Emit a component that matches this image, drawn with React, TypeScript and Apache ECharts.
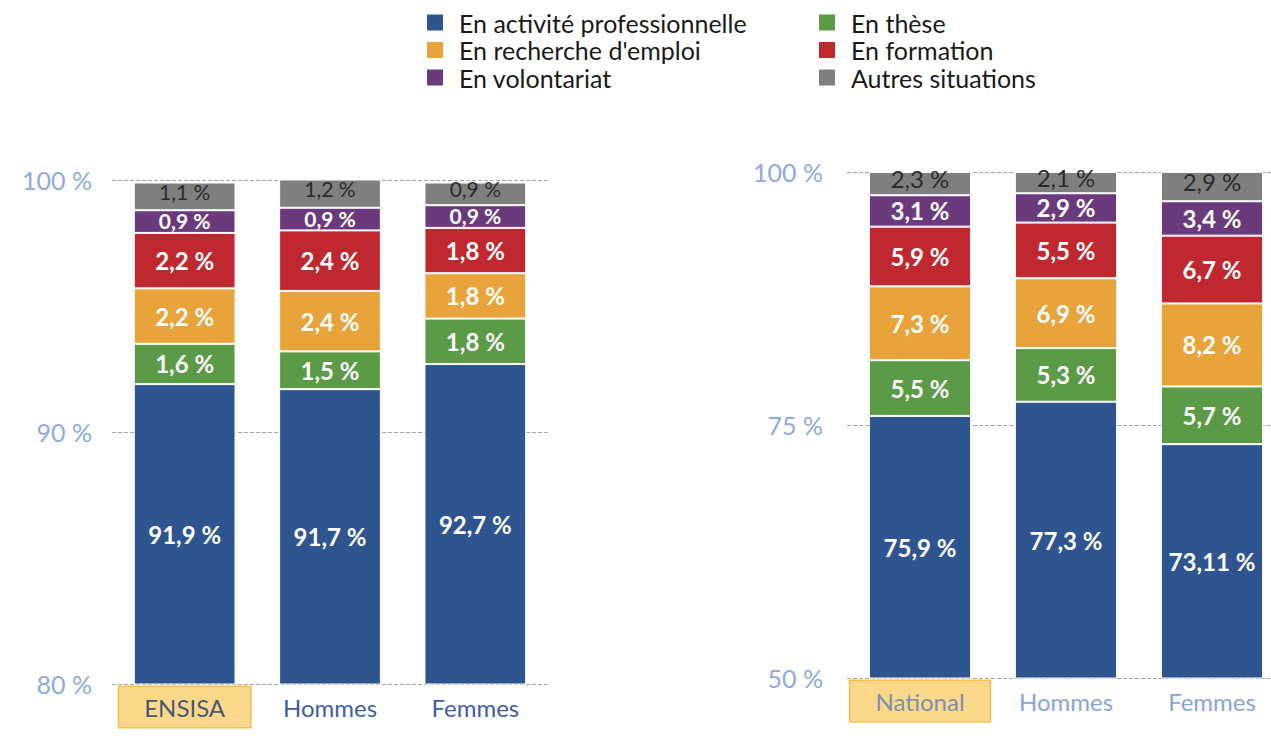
import React, { useEffect, useRef } from "react";
import * as echarts from "echarts";

const seriesNames = [
  "En activité professionnelle",
  "En thèse",
  "En recherche d'emploi",
  "En formation",
  "En volontariat",
  "Autres situations",
];
const seriesColors = ["#2e5590", "#5b9a47", "#e8a43a", "#c0282f", "#6b3a7d", "#7f7f7f"];

const leftCategories = ["ENSISA", "Hommes", "Femmes"];
const rightCategories = ["National", "Hommes", "Femmes"];

// left (ENSISA) values per series
const leftActivite = [91.9, 91.7, 92.7];
const leftThese = [1.6, 1.5, 1.8];
const leftRecherche = [2.2, 2.4, 1.8];
const leftFormation = [2.2, 2.4, 1.8];
const leftVolontariat = [0.9, 0.9, 0.9];
const leftAutres = [1.1, 1.2, 0.9];

// right (National) values per series
const rightActivite = [75.9, 77.3, 73.11];
const rightThese = [5.5, 5.3, 5.7];
const rightRecherche = [7.3, 6.9, 8.2];
const rightFormation = [5.9, 5.5, 6.7];
const rightVolontariat = [3.1, 2.9, 3.4];
const rightAutres = [2.3, 2.1, 2.9];

const leftTicks = [80, 90, 100];
const rightTicks = [50, 75, 100];

const FONT = "Lato, 'Open Sans', sans-serif";

export default function App() {
  const ref = useRef<HTMLDivElement>(null);
  useEffect(() => {
    if (!ref.current) return;
    const chart = echarts.init(ref.current, null, { renderer: "svg" });
    const leftData = [leftActivite, leftThese, leftRecherche, leftFormation, leftVolontariat, leftAutres];
    const rightData = [rightActivite, rightThese, rightRecherche, rightFormation, rightVolontariat, rightAutres];
    const fmt = (p: any) => String(p.value).replace(".", ",") + " %";

    const mk = (data: number[][], idx: number, stack: string) =>
      data.map((vals, i) => ({
        name: seriesNames[i],
        type: "bar",
        stack,
        xAxisIndex: idx,
        yAxisIndex: idx,
        barWidth: "70%",
        data: vals,
        itemStyle: { color: seriesColors[i], borderColor: "#ffffff", borderWidth: 1 },
        label: {
          show: true,
          position: "inside",
          formatter: fmt,
          fontFamily: FONT,
          fontSize: idx === 0 && i >= 4 ? 21 : 24,
          lineHeight: 18,
          offset: i === 5 ? [0, -5] : i === 4 && idx === 0 ? [0, -1] : [0, 0],
          fontWeight: i === 5 ? "normal" : "bold",
          color: i === 5 ? "#2b2b2b" : "#ffffff",
        },
      }));

    const legendText = {
      fontFamily: FONT,
      fontSize: 25,
      color: "#1a1a1a",
      lineHeight: 25,
      padding: [0, 0, 0, 10],
    };

    const xLabel = (highlightColor: string, otherColor: string) => ({
      fontFamily: FONT,
      fontSize: 24,
      margin: 3,
      interval: 0,
      hideOverlap: false,
      color: otherColor,
      formatter: (v: string, i: number) => (i === 0 ? `{hl|${v}}` : `{n|${v}}`),
      rich: {
        hl: {
          fontFamily: FONT,
          fontSize: 24,
          color: highlightColor,
          backgroundColor: "#fcd88a",
          borderColor: "#f5c04a",
          borderWidth: 1.5,
          padding: [8, 25, 8, 25],
        },
        n: { fontFamily: FONT, fontSize: 24, color: otherColor, padding: [8, 0, 8, 0] },
      },
    });

    const yCommon = {
      type: "value",
      axisLine: { show: false },
      axisTick: { show: false },
      splitLine: { show: true, lineStyle: { type: "dashed", color: "#a6a6a6", width: 1 } },
    };

    const legendBase = {
      orient: "vertical",
      top: 10,
      padding: 0,
      itemWidth: 18,
      itemHeight: 18,
      itemGap: 2.5,
      icon: "rect",
      textStyle: legendText,
    };

    chart.setOption({
      animation: false,
      legend: [
        { ...legendBase, left: 425, data: [seriesNames[0], seriesNames[2], seriesNames[4]] },
        { ...legendBase, left: 817, data: [seriesNames[1], seriesNames[3], seriesNames[5]] },
      ],
      grid: [
        { left: 112, width: 436, top: 180, height: 504, containLabel: false },
        { left: 847, width: 438, top: 172, height: 506, containLabel: false },
      ],
      xAxis: [
        {
          type: "category",
          gridIndex: 0,
          data: leftCategories,
          axisLine: { show: false },
          axisTick: { show: false },
          axisLabel: xLabel("#4a5874", "#3e5ea8"),
        },
        {
          type: "category",
          gridIndex: 1,
          data: rightCategories,
          axisLine: { show: false },
          axisTick: { show: false },
          axisLabel: xLabel("#7f8fae", "#8aa4da"),
        },
      ],
      yAxis: [
        {
          ...yCommon,
          gridIndex: 0,
          min: leftTicks[0],
          max: leftTicks[2],
          interval: 10,
          axisLabel: {
            fontFamily: FONT,
            fontSize: 25,
            color: "#8faadc",
            margin: 20,
            formatter: (v: number) => (leftTicks.includes(v) ? v + " %" : ""),
          },
        },
        {
          ...yCommon,
          gridIndex: 1,
          min: rightTicks[0],
          max: rightTicks[2],
          interval: 25,
          axisLabel: {
            fontFamily: FONT,
            fontSize: 25,
            color: "#8faadc",
            margin: 24,
            formatter: (v: number) => (rightTicks.includes(v) ? v + " %" : ""),
          },
        },
      ],
      series: [...mk(leftData, 0, "left"), ...mk(rightData, 1, "right")],
    });
    return () => chart.dispose();
  }, []);
  return (
    <div
      ref={ref}
      style={{ position: "fixed", left: 0, top: 0, width: 1300, height: 742, background: "#ffffff" }}
    />
  );
}
